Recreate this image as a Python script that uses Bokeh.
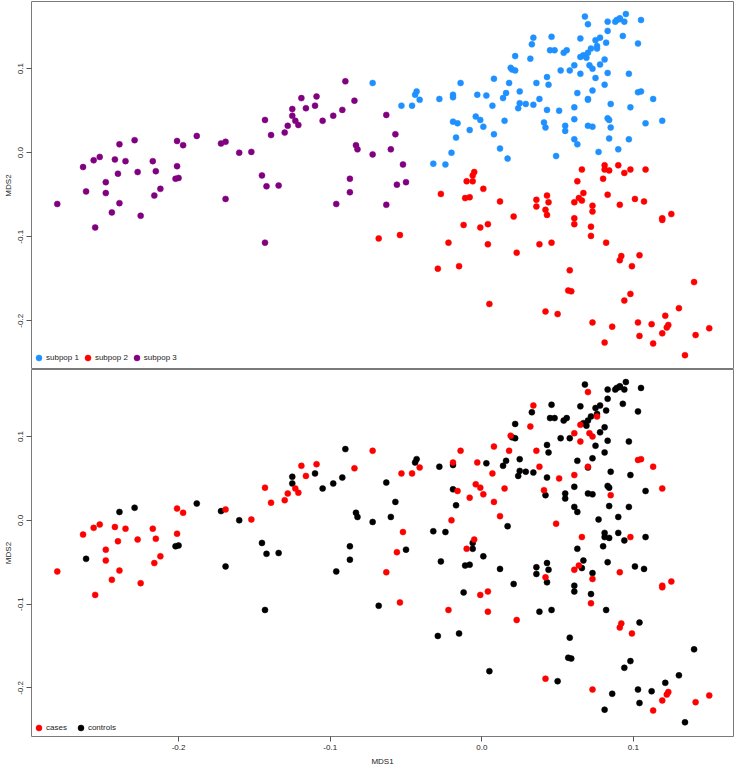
import numpy as np
from bokeh.plotting import figure
from bokeh.layouts import column
from bokeh.models import (FixedTicker, PrintfTickFormatter, Range1d, Legend,
                          LegendItem)
from bokeh.embed import file_html
from bokeh.resources import INLINE

# ---------------- data (MDS coordinates) ----------------
# subpop 1 (blue)
sub1_x = [-0.072, -0.053, -0.046, -0.044, -0.043, -0.041, -0.032, -0.024, -0.028, -0.020,
          -0.017, -0.019, -0.016, -0.019, -0.019, -0.014, -0.008, -0.004, -0.001, 0.001,
          -0.003, 0.003, 0.007, 0.008, 0.008, 0.012, 0.014, 0.015, 0.016, 0.017,
          0.018, 0.019, 0.020, 0.022, 0.022, 0.024, 0.025, 0.025, 0.029, 0.032,
          0.033, 0.034, 0.034, 0.036, 0.038, 0.041, 0.042, 0.043, 0.043, 0.044,
          0.045, 0.046, 0.048, 0.049, 0.051, 0.052, 0.054, 0.056, 0.055, 0.055,
          0.058, 0.061, 0.061, 0.061, 0.061, 0.063, 0.063, 0.065, 0.065, 0.065,
          0.068, 0.067, 0.069, 0.070, 0.072, 0.070, 0.070, 0.070, 0.071, 0.070,
          0.073, 0.073, 0.073, 0.075, 0.076, 0.078, 0.076, 0.075, 0.077, 0.078,
          0.081, 0.081, 0.082, 0.083, 0.083, 0.083, 0.083, 0.084, 0.085, 0.085,
          0.084, 0.088, 0.089, 0.091, 0.091, 0.090, 0.093, 0.094, 0.095, 0.097,
          0.097, 0.098, 0.103, 0.105, 0.103, 0.105, 0.108, 0.113, 0.119]
sub1_y = [0.083, 0.056, 0.056, 0.069, 0.073, 0.063, -0.013, -0.014, 0.064, 0.000,
          0.018, 0.037, 0.035, 0.069, 0.066, 0.083, 0.027, 0.043, 0.039, 0.031,
          0.069, 0.068, 0.056, 0.088, 0.022, 0.005, 0.065, 0.038, 0.071, -0.007,
          0.083, 0.101, 0.099, 0.098, 0.115, 0.053, 0.073, 0.059, 0.058, 0.112,
          0.129, 0.137, 0.057, 0.083, 0.064, 0.036, 0.030, 0.051, 0.090, 0.081,
          0.122, 0.138, 0.122, -0.004, 0.050, 0.098, 0.119, 0.122, 0.026, 0.032,
          0.098, 0.054, 0.040, 0.016, 0.104, 0.010, 0.071, 0.094, 0.114, 0.136,
          0.162, 0.116, 0.113, 0.119, 0.124, 0.153, 0.064, 0.063, 0.104, 0.032,
          0.031, 0.100, 0.074, 0.134, 0.127, 0.137, 0.124, 0.089, 0.001, 0.105,
          0.111, 0.081, 0.131, 0.145, 0.156, 0.095, 0.041, 0.039, 0.058, 0.030,
          0.017, 0.156, 0.158, 0.159, 0.160, 0.004, 0.139, 0.156, 0.165, 0.094,
          0.016, 0.054, 0.072, 0.073, 0.130, 0.158, 0.035, 0.064, 0.038]
sub1_case = [1, 1, 1, 0, 0, 1, 0, 0, 0, 1,
             0, 0, 1, 1, 0, 1, 1, 1, 1, 1,
             1, 0, 1, 1, 1, 1, 0, 1, 0, 0,
             1, 1, 0, 0, 0, 0, 0, 0, 0, 1,
             0, 1, 0, 1, 1, 1, 0, 0, 0, 0,
             0, 0, 0, 1, 1, 0, 0, 0, 0, 0,
             0, 1, 0, 0, 1, 0, 0, 1, 1, 0,
             0, 0, 0, 0, 0, 1, 1, 0, 1, 0,
             0, 1, 0, 0, 0, 0, 1, 0, 0, 0,
             0, 0, 0, 0, 0, 0, 0, 0, 0, 1,
             0, 0, 0, 0, 0, 0, 0, 0, 0, 0,
             0, 0, 1, 1, 0, 0, 0, 1, 1]

# subpop 2 (red)
sub2_x = [-0.068, -0.054, -0.029, -0.027, -0.022, -0.015, -0.012, -0.011, -0.008, -0.010,
          -0.006, -0.006, -0.005, -0.001, 0.001, 0.004, 0.004, 0.005, 0.012, 0.021,
          0.023, 0.036, 0.036, 0.038, 0.042, 0.043, 0.044, 0.043, 0.042, 0.046,
          0.050, 0.058, 0.057, 0.059, 0.061, 0.061, 0.061, 0.063, 0.066, 0.064,
          0.066, 0.067, 0.072, 0.072, 0.073, 0.073, 0.073, 0.081, 0.080, 0.081,
          0.081, 0.084, 0.082, 0.083, 0.086, 0.090, 0.091, 0.094, 0.091, 0.092,
          0.094, 0.098, 0.098, 0.099, 0.101, 0.103, 0.104, 0.104, 0.107, 0.108,
          0.112, 0.113, 0.119, 0.119, 0.119, 0.121, 0.122, 0.123, 0.125, 0.130,
          0.140, 0.141, 0.150, 0.134]
sub2_y = [-0.102, -0.098, -0.138, -0.049, -0.107, -0.135, -0.086, -0.054, -0.053, -0.034,
          -0.034, -0.027, -0.023, -0.089, -0.043, -0.085, -0.109, -0.180, -0.058, -0.076,
          -0.119, -0.056, -0.064, -0.109, -0.068, -0.051, -0.059, -0.074, -0.189, -0.107,
          -0.192, -0.140, -0.164, -0.165, -0.078, -0.085, -0.059, -0.034, -0.020, -0.054,
          -0.057, -0.048, -0.099, -0.088, -0.063, -0.070, -0.202, -0.226, -0.031, -0.020,
          -0.015, -0.021, -0.107, -0.050, -0.207, -0.015, -0.062, -0.024, -0.128, -0.123,
          -0.176, -0.168, -0.020, -0.135, -0.055, -0.202, -0.218, -0.122, -0.058, -0.020,
          -0.204, -0.227, -0.215, -0.078, -0.080, -0.194, -0.208, -0.205, -0.073, -0.185,
          -0.154, -0.217, -0.209, -0.241]
sub2_case = [0, 1, 0, 0, 1, 0, 0, 0, 0, 1,
             0, 0, 1, 1, 0, 1, 1, 0, 0, 0,
             1, 0, 0, 0, 1, 0, 0, 0, 1, 0,
             0, 0, 0, 0, 0, 0, 1, 0, 1, 1,
             0, 0, 1, 0, 0, 1, 1, 0, 0, 0,
             0, 0, 0, 0, 0, 0, 1, 0, 1, 1,
             0, 0, 1, 1, 0, 0, 0, 0, 0, 0,
             0, 1, 1, 1, 1, 0, 1, 1, 1, 0,
             0, 1, 1, 0]

# subpop 3 (purple)
sub3_x = [-0.280, -0.263, -0.261, -0.256, -0.255, -0.252, -0.248, -0.248, -0.244, -0.242,
          -0.240, -0.239, -0.239, -0.235, -0.229, -0.227, -0.225, -0.217, -0.216, -0.215,
          -0.212, -0.202, -0.200, -0.201, -0.201, -0.197, -0.188, -0.172, -0.169, -0.169,
          -0.160, -0.152, -0.145, -0.142, -0.134, -0.143, -0.143, -0.139, -0.130, -0.128,
          -0.125, -0.125, -0.123, -0.121, -0.119, -0.116, -0.110, -0.109, -0.105, -0.098,
          -0.092, -0.090, -0.084, -0.083, -0.082, -0.087, -0.087, -0.096, -0.072, -0.063,
          -0.057, -0.060, -0.052, -0.056, -0.050, -0.063]
sub3_y = [-0.061, -0.017, -0.046, -0.009, -0.089, -0.005, -0.035, -0.048, -0.071, -0.008,
          -0.025, 0.010, -0.060, -0.010, 0.015, -0.023, -0.075, -0.010, -0.051, -0.022,
          -0.043, -0.031, -0.030, 0.014, -0.016, 0.009, 0.020, 0.011, 0.013, -0.055,
          0.000, 0.001, -0.027, -0.040, -0.039, -0.107, 0.039, 0.021, 0.024, 0.032,
          0.044, 0.052, 0.038, 0.033, 0.065, 0.053, 0.056, 0.067, 0.038, 0.044,
          0.051, 0.085, 0.062, 0.009, 0.004, -0.031, -0.047, -0.061, -0.002, 0.045,
          0.022, 0.004, -0.014, -0.038, -0.035, -0.062]
sub3_case = [1, 1, 0, 1, 1, 1, 1, 1, 1, 1,
             1, 0, 1, 1, 0, 1, 1, 1, 1, 1,
             1, 0, 0, 1, 1, 1, 0, 0, 1, 0,
             0, 1, 0, 0, 0, 0, 1, 1, 1, 1,
             0, 0, 1, 1, 1, 1, 0, 1, 0, 0,
             0, 0, 1, 0, 0, 0, 0, 0, 0, 0,
             0, 0, 1, 1, 0, 1]

subpop_labels = ["subpop 1", "subpop 2", "subpop 3"]
subpop_colors = ["#1E90FF", "#FF0000", "#800080"]
status_labels = ["cases", "controls"]
status_colors = ["#FF0000", "#000000"]
y_ticks = [-0.2, -0.1, 0.0, 0.1]
x_ticks = [-0.2, -0.1, 0.0, 0.1]

# ---------------- styling ----------------
FONT = "Liberation Sans"
FS = "8px"
FRAME = "#7a7a7a"
DOT = 6

x_range = Range1d(-0.297, 0.166)


def style_axis(ax, ticks):
    ax.ticker = FixedTicker(ticks=ticks)
    ax.formatter = PrintfTickFormatter(format="%.1f")
    ax.axis_line_color = None
    ax.major_tick_line_color = "#555555"
    ax.major_tick_out = 5
    ax.major_tick_in = 0
    ax.minor_tick_line_color = None
    ax.major_label_text_font = FONT
    ax.major_label_text_font_size = FS
    ax.major_label_text_color = "#222222"
    ax.axis_label_text_font = FONT
    ax.axis_label_text_font_size = FS
    ax.axis_label_text_font_style = "normal"
    ax.axis_label_text_color = "#222222"


def make_fig(height, show_x, mb_top, mb_bottom):
    p = figure(width=734, height=height, x_range=x_range,
               y_range=Range1d(-0.258, 0.180),
               x_axis_location="below" if show_x else None,
               output_backend="svg", toolbar_location=None,
               min_border_left=29, min_border_right=1,
               min_border_top=mb_top, min_border_bottom=mb_bottom)
    p.grid.visible = False
    p.outline_line_color = FRAME
    p.outline_line_width = 1
    p.background_fill_color = "white"
    p.border_fill_color = "white"
    style_axis(p.yaxis[0], y_ticks)
    p.yaxis[0].major_label_orientation = "vertical"
    p.yaxis[0].major_label_standoff = 3
    p.yaxis[0].axis_label_standoff = 3
    p.yaxis[0].axis_label = "MDS2"
    if show_x:
        style_axis(p.xaxis[0], x_ticks)
        p.xaxis[0].major_label_standoff = 3
        p.xaxis[0].axis_label_standoff = 4
        p.xaxis[0].axis_label = "MDS1"
    return p


def make_legend(items, loc, spacing):
    leg = Legend(items=items, location=loc, orientation="horizontal",
                 label_text_font=FONT, label_text_font_size=FS,
                 label_text_color="#222222",
                 glyph_width=15, glyph_height=15, label_height=15,
                 label_standoff=0, spacing=spacing, padding=0, margin=0,
                 border_line_color=None, background_fill_alpha=0)
    return leg


# ---------------- top panel: subpopulations ----------------
p1 = make_fig(369, False, 1, 0)
groups = [(sub1_x, sub1_y), (sub2_x, sub2_y), (sub3_x, sub3_y)]
items1 = []
for (gx, gy), lab, col in zip(groups, subpop_labels, subpop_colors):
    r = p1.scatter(np.array(gx), np.array(gy), size=DOT, marker="circle",
                   fill_color=col, line_color=col, line_width=0.5)
    items1.append(LegendItem(label=lab, renderers=[r]))
p1.add_layout(make_legend(items1, (0, 4), 1))

# ---------------- bottom panel: cases / controls ----------------
all_x = np.array(sub1_x + sub2_x + sub3_x)
all_y = np.array(sub1_y + sub2_y + sub3_y)
all_case = np.array(sub1_case + sub2_case + sub3_case)

p2 = make_fig(399, True, 0, 31)
ctrl = all_case == 0
case = all_case == 1
r_ctrl = p2.scatter(all_x[ctrl], all_y[ctrl], size=DOT, marker="circle",
                    fill_color=status_colors[1], line_color=status_colors[1],
                    line_width=0.5)
r_case = p2.scatter(all_x[case], all_y[case], size=DOT, marker="circle",
                    fill_color=status_colors[0], line_color=status_colors[0],
                    line_width=0.5)
items2 = [LegendItem(label=status_labels[0], renderers=[r_case]),
          LegendItem(label=status_labels[1], renderers=[r_ctrl])]
p2.add_layout(make_legend(items2, (0, 1), 6))

layout = column(p1, p2, spacing=0)
open("out.html", "w").write(file_html(layout, INLINE))
